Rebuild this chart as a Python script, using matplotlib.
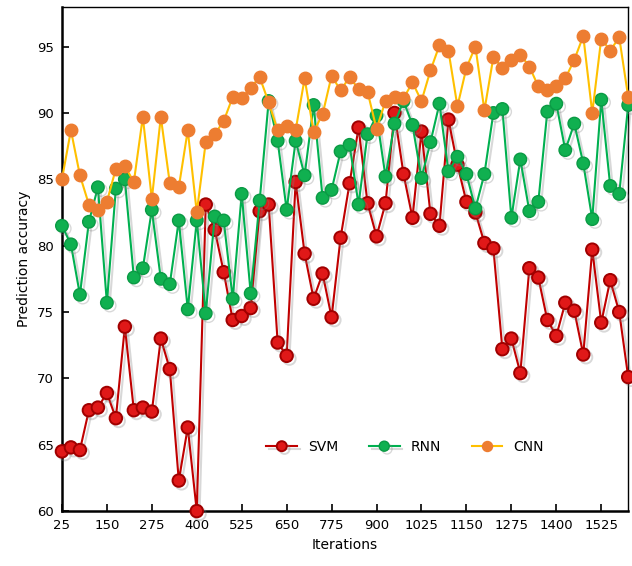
import numpy as np
import matplotlib
matplotlib.use("Agg")
import matplotlib.pyplot as plt
import matplotlib.patheffects as pe

# iterations 25 .. 1600 step 25
iterations = list(range(25, 1601, 25))

svm = [64.5, 64.8, 64.6, 67.6, 67.8, 68.9, 67.0, 73.9, 67.6, 67.8,
       67.5, 73.0, 70.7, 62.3, 66.3, 60.0, 83.1, 81.2, 78.0, 74.4,
       74.7, 75.3, 82.6, 83.1, 72.7, 71.7, 84.8, 79.4, 76.0, 77.9,
       74.6, 80.6, 84.7, 88.9, 83.2, 80.7, 83.2, 90.0, 85.4, 82.1,
       88.6, 82.4, 81.5, 89.5, 86.1, 83.3, 82.5, 80.2, 79.8, 72.2,
       73.0, 70.4, 78.3, 77.6, 74.4, 73.2, 75.7, 75.1, 71.8, 79.7,
       74.2, 77.4, 75.0, 70.1]

rnn = [81.5, 80.1, 76.3, 81.8, 84.4, 75.7, 84.3, 85.0, 77.6, 78.3,
       82.7, 77.5, 77.1, 81.9, 75.2, 81.9, 74.9, 82.2, 81.9, 76.0,
       83.9, 76.4, 83.4, 90.9, 87.9, 82.7, 87.9, 85.3, 90.6, 83.6,
       84.2, 87.1, 87.6, 83.1, 88.4, 89.8, 85.2, 89.2, 90.9, 89.1,
       85.1, 87.8, 90.7, 85.6, 86.7, 85.4, 82.8, 85.4, 90.0, 90.3,
       82.1, 86.5, 82.6, 83.3, 90.1, 90.7, 87.2, 89.2, 86.2, 82.0,
       91.0, 84.5, 83.9, 90.6]

cnn = [85.0, 88.7, 85.3, 83.1, 82.7, 83.3, 85.8, 86.0, 84.8, 89.7,
       83.5, 89.7, 84.7, 84.4, 88.7, 82.5, 87.8, 88.4, 89.4, 91.2,
       91.1, 91.9, 92.7, 90.8, 88.7, 89.0, 88.7, 92.6, 88.6, 89.9,
       92.8, 91.7, 92.7, 91.8, 91.6, 88.8, 90.9, 91.2, 91.1, 92.3,
       90.9, 93.2, 95.1, 94.7, 90.5, 93.4, 95.0, 90.2, 94.2, 93.4,
       94.0, 94.4, 93.5, 92.0, 91.7, 92.0, 92.6, 94.0, 95.8, 90.0,
       95.6, 94.7, 95.7, 91.2]

xtick_vals = list(range(25, 1526, 125))

fig = plt.figure(figsize=(6.32, 5.66), dpi=100)
ax = fig.add_axes([0.098, 0.097, 0.896, 0.891])

# soft grey drop shadow like the original
shadow = [pe.SimpleLineShadow(offset=(2, -2), shadow_color="gray", alpha=0.3), pe.Normal()]

ax.plot(iterations, svm, color="#c00000", lw=1.5, marker="o", ms=9,
        mfc="#e01818", mec="#a00000", mew=1.4, label="SVM",
        clip_on=False, zorder=3, path_effects=shadow)
ax.plot(iterations, rnn, color="#00b050", lw=1.5, marker="o", ms=9,
        mfc="#10b050", mec="#0a9a44", mew=1.0, label="RNN",
        clip_on=False, zorder=4, path_effects=shadow)
ax.plot(iterations, cnn, color="#ffc000", lw=1.5, marker="o", ms=9,
        mfc="#ed7d31", mec="#ed7d31", mew=1.0, label="CNN",
        clip_on=False, zorder=5)

ax.set_xlim(25, 1600)
ax.set_ylim(60, 98)
ax.set_xticks(xtick_vals)
ax.set_yticks(range(60, 96, 5))
ax.tick_params(direction="in", length=5, width=1.2, labelsize=9.5, pad=6)

for side in ["left", "bottom"]:
    ax.spines[side].set_linewidth(1.8)
for side in ["top", "right"]:
    ax.spines[side].set_linewidth(1.0)

ax.set_xlabel("Iterations", fontsize=10)
ax.set_ylabel("Prediction accuracy", fontsize=10)

ax.legend(loc="center", bbox_to_anchor=(0.606, 0.127), ncol=3, frameon=False,
          fontsize=10, handlelength=2.2, columnspacing=2.2, markerscale=0.8)

fig.savefig("out.png", dpi=100)
